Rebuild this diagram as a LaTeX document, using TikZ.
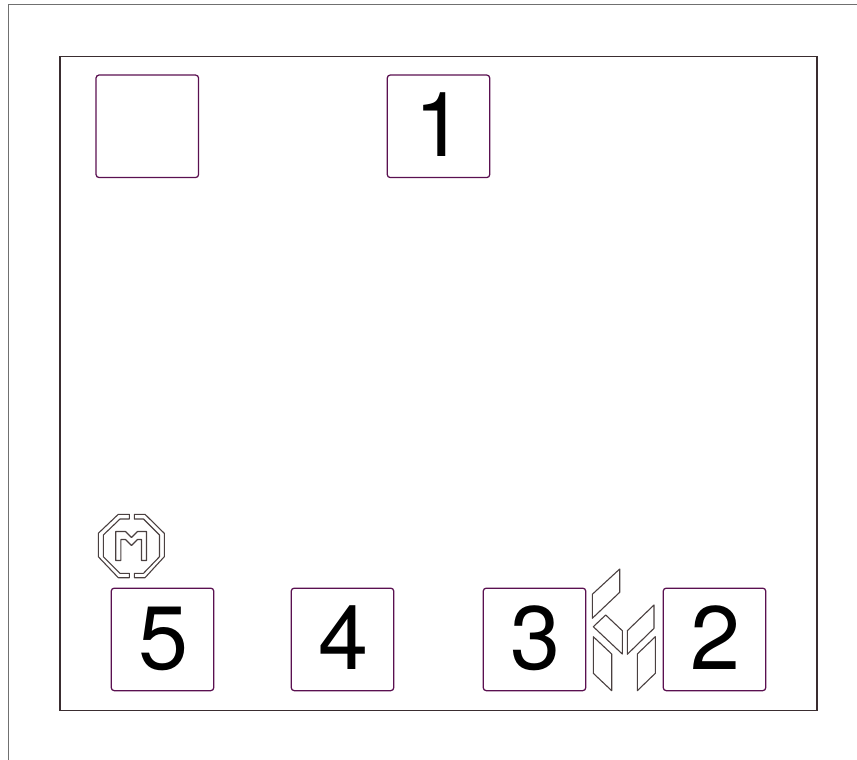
\documentclass[tikz,border=0pt]{standalone}
\usepackage{fontspec}
\setmainfont{TeX Gyre Heros}
\definecolor{keyc}{HTML}{5A1050}
\definecolor{framec}{HTML}{3A2D30}
\definecolor{outerc}{HTML}{707070}
\definecolor{logoc}{HTML}{4A4040}
\newcommand{\keydigit}[1]{\kern3pt #1}
\tikzset{
  keybox/.style={draw=keyc,line width=1.25pt,rounded corners=3pt,minimum width=102.5pt,minimum height=102.5pt,inner sep=0pt,text=black,font=\fontsize{90}{90}\selectfont,text height=65pt,text depth=5pt},
  logoline/.style={draw=logoc,line width=1.1pt,line join=round},
  framebox/.style={draw=framec,line width=1.25pt},
  outerline/.style={draw=outerc,line width=1.25pt}
}
\begin{document}
\begin{tikzpicture}[x=1pt,y=-1pt]
\useasboundingbox (0,0) rectangle (857,760);
\draw[outerline] (8.5,760) -- (8.5,4.5) -- (857,4.5);
\draw[framebox] (60,56.5) rectangle (817,710.5);
\node[keybox] (blank) at (147.3,126.3) {};
\node[keybox] (k1) at (438.5,126.3) {\keydigit{1}};
\node[keybox] (k5) at (162.5,639.4) {\keydigit{5}};
\node[keybox] (k4) at (342.5,639.4) {\keydigit{4}};
\node[keybox] (k3) at (534.5,639.4) {\keydigit{3}};
\node[keybox] (k2) at (714.5,639.4) {\keydigit{2}};
% M logo
\draw[logoline] (129.3,514.3) -- (118.3,514.3) -- (98.3,533.3) -- (98.3,556.7) -- (118.3,577.7) -- (129.3,577.7) -- (129.3,573.3) -- (120,573.3) -- (103.3,556.7) -- (103.3,535) -- (120,519) -- (129.3,519) -- cycle;
\draw[logoline] (134.3,514.3) -- (145,514.3) -- (164.3,533.3) -- (164.3,556.7) -- (145,577.7) -- (134.3,577.7) -- (134.3,573.3) -- (143.5,573.3) -- (159.5,556.7) -- (159.5,535) -- (143.5,519) -- (134.3,519) -- cycle;
\draw[logoline] (115.7,560.5) -- (115.7,531.5) -- (125.5,531.5) -- (131.5,537.5) -- (137.5,531.5) -- (146.5,531.5) -- (146.5,560.5) -- (141.5,560.5) -- (141.5,539.5) -- (137.5,539.5) -- (131.5,545.5) -- (125.5,539.5) -- (120.8,539.5) -- (120.8,560.5) -- cycle;
% second logo
\draw[logoline] (619.7,569) -- (619.7,592.3) -- (592.3,618.3) -- (592.3,594.3) -- cycle;
\draw[logoline] (605.7,615) -- (622.3,630.7) -- (622.3,654) -- (593.3,626.7) -- cycle;
\draw[logoline] (654,605) -- (654,628.3) -- (627.3,654.3) -- (627.3,630.7) -- cycle;
\draw[logoline] (593.3,636.7) -- (611.7,654) -- (611.7,690.7) -- (593.3,673.3) -- cycle;
\draw[logoline] (655.3,636.7) -- (655.3,673.3) -- (637.3,690.7) -- (637.3,654) -- cycle;
\end{tikzpicture}
\end{document}
